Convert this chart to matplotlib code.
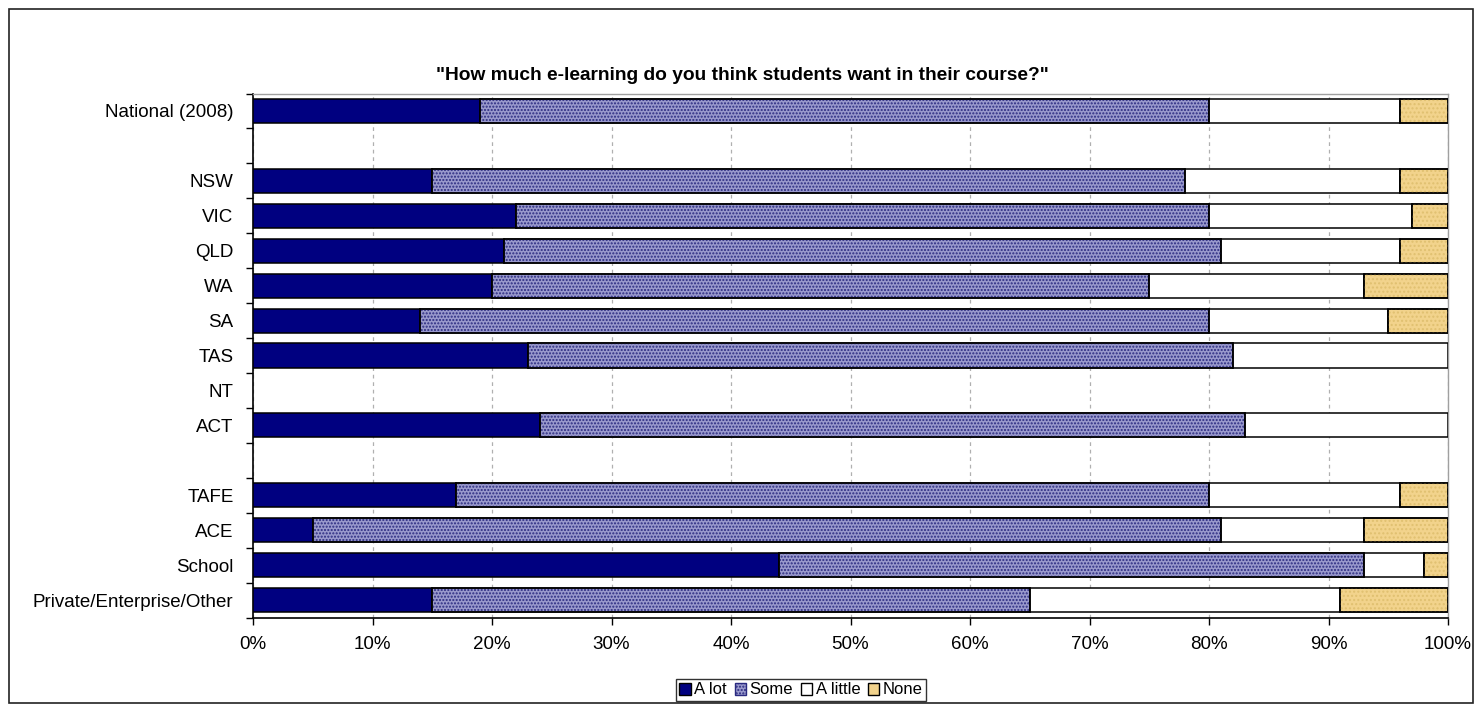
import matplotlib
matplotlib.use("Agg")
import matplotlib.pyplot as plt
from matplotlib.patches import Patch, Rectangle
import numpy as np

plt.rcParams['font.family'] = ['Liberation Sans', 'DejaVu Sans']

categories = ["National (2008)", "", "NSW", "VIC", "QLD", "WA", "SA", "TAS", "NT", "ACT",
              "", "TAFE", "ACE", "School", "Private/Enterprise/Other"]
a_lot =    [19, 0, 15, 22, 21, 20, 14, 23, 0, 24, 0, 17, 5, 44, 15]
some =     [61, 0, 63, 58, 60, 55, 66, 59, 0, 59, 0, 63, 76, 49, 50]
a_little = [16, 0, 18, 17, 15, 18, 15, 18, 0, 17, 0, 16, 12, 5, 26]
none =     [4, 0, 4, 3, 4, 7, 5, 0, 0, 0, 0, 4, 7, 2, 9]
series_names = ["A lot", "Some", "A little", "None"]
xticks = list(range(0, 101, 10))

fig = plt.figure(figsize=(14.82, 7.12), dpi=100)
fig.patches.append(Rectangle((9/1482, 9/712), 1 - 18/1482, 1 - 18/712, transform=fig.transFigure,
                             fill=False, edgecolor='#222222', linewidth=1.2))
ax = fig.add_axes([253/1482, 1 - 617.5/712, (1448 - 253)/1482, (617.5 - 93.5)/712])

y = np.arange(len(categories))
h = 0.69
left = np.zeros(len(categories))
colors = ['#000080', '#9999cc', '#ffffff', '#f2d38c']
for i, vals in enumerate([a_lot, some, a_little, none]):
    vals = np.array(vals, dtype=float)
    mask = vals > 0
    ax.barh(y[mask], vals[mask], left=left[mask], height=h, color=colors[i],
            edgecolor='black', linewidth=1.1, zorder=3)
    if i == 1:
        ax.barh(y[mask], vals[mask], left=left[mask], height=h, fill=False,
                hatch='.....', edgecolor='#2a2a80', linewidth=0, zorder=4)
        ax.barh(y[mask], vals[mask], left=left[mask], height=h, fill=False,
                edgecolor='black', linewidth=1.1, zorder=5)
    if i == 3:
        ax.barh(y[mask], vals[mask], left=left[mask], height=h, fill=False,
                hatch='....', edgecolor='#e0c070', linewidth=0, zorder=4)
        ax.barh(y[mask], vals[mask], left=left[mask], height=h, fill=False,
                edgecolor='black', linewidth=1.1, zorder=5)
    left = left + vals

ax.set_xlim(0, 100)
ax.set_ylim(len(categories) - 0.5, -0.5)
ax.set_xticks(xticks)
ax.set_xticklabels([f"{t}%" for t in xticks], fontsize=13.5)
ax.set_yticks(y)
ax.set_yticklabels(categories, fontsize=13.5)
ax.tick_params(axis='y', length=0, pad=14)
ax.set_yticks(np.arange(-0.5, len(categories), 1), minor=True)
ax.tick_params(axis='y', which='minor', length=5, direction='out', width=1)
ax.tick_params(axis='x', length=5, direction='out', width=1, pad=8)
ax.grid(axis='x', color='#b0b0b0', linestyle=(0, (3, 3)), linewidth=0.9, zorder=0)
for s in ['top', 'right']:
    ax.spines[s].set_color('#a0a0a0')
    ax.spines[s].set_linewidth(1.0)
ax.spines['left'].set_linewidth(1.2)
ax.spines['bottom'].set_linewidth(1.2)

fig.text(742/1482, 1 - 75/712, '"How much e-learning do you think students want in their course?"',
         ha='center', va='center', fontsize=13.8, fontweight='bold')

handles = [Patch(facecolor=colors[0], edgecolor='black'),
           Patch(facecolor=colors[1], edgecolor='#2a2a80', hatch='.....'),
           Patch(facecolor=colors[2], edgecolor='black'),
           Patch(facecolor=colors[3], edgecolor='black')]
leg = fig.legend(handles, series_names, loc='center', bbox_to_anchor=(801/1482, 1 - 690/712),
                 ncol=4, fontsize=12, frameon=True, fancybox=False, edgecolor='black',
                 handlelength=0.7, handleheight=0.7, handletextpad=0.2, columnspacing=0.45,
                 borderpad=0.2, borderaxespad=0)
leg.get_frame().set_linewidth(1.0)

fig.savefig("out.png", dpi=100)
